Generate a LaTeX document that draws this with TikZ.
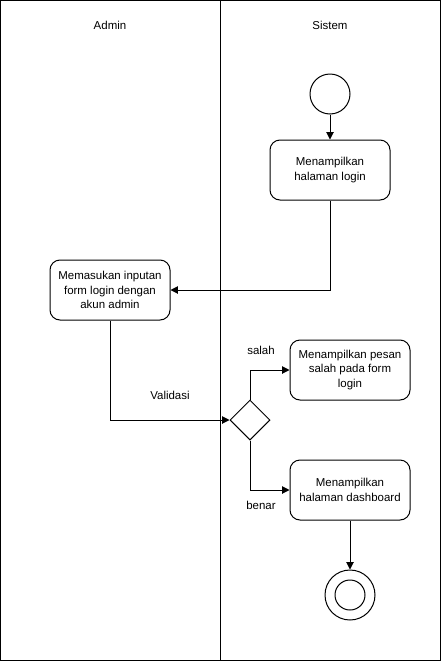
\documentclass[tikz,border=0pt]{standalone}
\usepackage{fontspec}
\setmainfont{Liberation Sans}
\usetikzlibrary{shapes.geometric,arrows.meta}
\begin{document}
\begin{tikzpicture}[x=0.75pt,y=-0.75pt,
  every node/.style={font=\fontsize{8.6}{10.9}\selectfont},
  act/.style={draw,line width=0.75pt,rounded corners=7.5pt,minimum width=90pt,minimum height=45pt,align=center,inner sep=1pt},
  conn/.style={draw,line width=0.75pt,-{Triangle[length=5.5pt,width=5.5pt]}},
  lane/.style={draw,line width=0.75pt}]
\useasboundingbox (0,0) rectangle (441,661);
\draw[lane] (0.5,0.5) rectangle (440.5,660.5);
\draw[lane] (220.5,0.5) -- (220.5,660.5);
\node (ladmin) at (110,25) {Admin};
\node (lsistem) at (330,25) {Sistem};
\node[draw,circle,line width=0.75pt,minimum size=30pt,inner sep=0pt] (start) at (330,94) {};
\node[act] (b1) at (330,170) {Menampilkan\\halaman login};
\node[act] (b2) at (110,290) {Memasukan inputan\\form login dengan\\akun admin};
\node[draw,diamond,line width=0.75pt,minimum width=30pt,minimum height=30pt,inner sep=0pt] (dec) at (250,420) {};
\node[act] (b3) at (350,370) {Menampilkan pesan\\salah pada form\\login};
\node[act] (b4) at (350,490) {Menampilkan\\halaman dashboard};
\node[draw,circle,line width=0.75pt,minimum size=37.5pt,inner sep=0pt] (endo) at (350,595) {};
\node[draw,circle,line width=0.75pt,minimum size=22.5pt,inner sep=0pt] (endi) at (350,595) {};
\draw[conn] (start) -- (b1);
\draw[conn] (b1.south) |- (b2.east);
\draw[conn] (b2.south) |- (dec.west);
\node (lval) at (170,395) {Validasi};
\draw[conn] (dec.north) |- (b3.west);
\node (lsal) at (261,350) {salah};
\draw[conn] (dec.south) |- (b4.west);
\node (lben) at (261,505) {benar};
\draw[conn] (b4) -- (endo);
\end{tikzpicture}
\end{document}
